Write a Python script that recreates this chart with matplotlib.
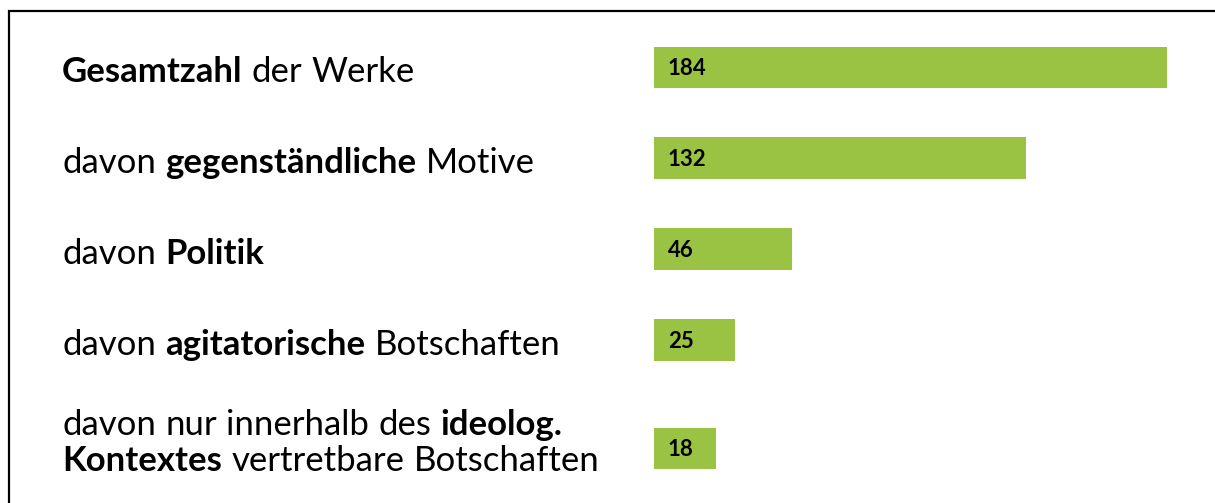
import numpy as np
import matplotlib
matplotlib.use('Agg')
import matplotlib.pyplot as plt
from matplotlib.patches import Rectangle

# Data
labels = [
    "**Gesamtzahl** der Werke",
    "davon **gegenständliche** Motive",
    "davon **Politik**",
    "davon **agitatorische** Botschaften",
    "davon nur innerhalb des **ideolog.**\n**Kontextes** vertretbare Botschaften",
]
values = [184, 132, 46, 25, 18]

bar_color = '#9bc343'
font_name = 'Lato'
label_size = 25
number_size = 16
pad = 5  # the bars start a little left of zero on the original axis

plt.rcParams['font.family'] = [font_name, 'DejaVu Sans']

W, H = 1215, 503
fig = plt.figure(figsize=(W / 100, H / 100), dpi=100)

# y positions: last row sits lower because of its two-line label
ypos = np.arange(len(values), dtype=float)
ypos[-1] += 0.19

ax = fig.add_axes([654 / W, 1 - 494 / H, 513 / W, 472 / H])
ax.barh(ypos, np.array(values) + pad, left=-pad, height=0.46, color=bar_color)
ax.set_xlim(-pad, max(values))
ax.set_ylim(ypos[-1] + 0.5, -0.5)
ax.axis('off')

# value labels inside the bars
for y, v in zip(ypos, values):
    ax.annotate(str(v), xy=(-pad, y), xytext=(10, -5.7), textcoords='offset points',
                ha='left', va='baseline', fontsize=number_size, fontweight='bold',
                annotation_clip=False)


def parse_line(line):
    words = []
    bold = False
    for w in line.split(' '):
        if w.startswith('**'):
            bold = True
            w = w[2:]
        end = w.endswith('**')
        if end:
            w = w[:-2]
        words.append((w, bold))
        if end:
            bold = False
    return words


gap = 0.27 * label_size  # word space in points
px = 0.72  # points per pixel at dpi 100
for y, lab in zip(ypos, labels):
    lines = lab.split('\n')
    n = len(lines)
    for k, line in enumerate(lines):
        dy = 14.5 - 28 * (n - 1) + 36 * k
        prev = None
        for word, bold in parse_line(line):
            weight = 'bold' if bold else 'normal'
            if prev is None:
                prev = ax.annotate(word, xy=(62 / W, y), xycoords=('figure fraction', 'data'),
                                   xytext=(0, -dy * px), textcoords='offset points',
                                   ha='left', va='baseline', fontsize=label_size,
                                   fontweight=weight, annotation_clip=False)
            else:
                prev = ax.annotate(word, xy=(1, 0), xycoords=prev,
                                   xytext=(gap, 0), textcoords='offset points',
                                   ha='left', va='bottom', fontsize=label_size,
                                   fontweight=weight, annotation_clip=False)

# frame around the chart (runs off the right and bottom edges)
fig.patches.append(Rectangle((9 / W, -0.1), 1.2, 1 - 11 / H + 0.1, transform=fig.transFigure,
                             fill=False, edgecolor='black', linewidth=1.6))

fig.savefig('out.png', dpi=100)
